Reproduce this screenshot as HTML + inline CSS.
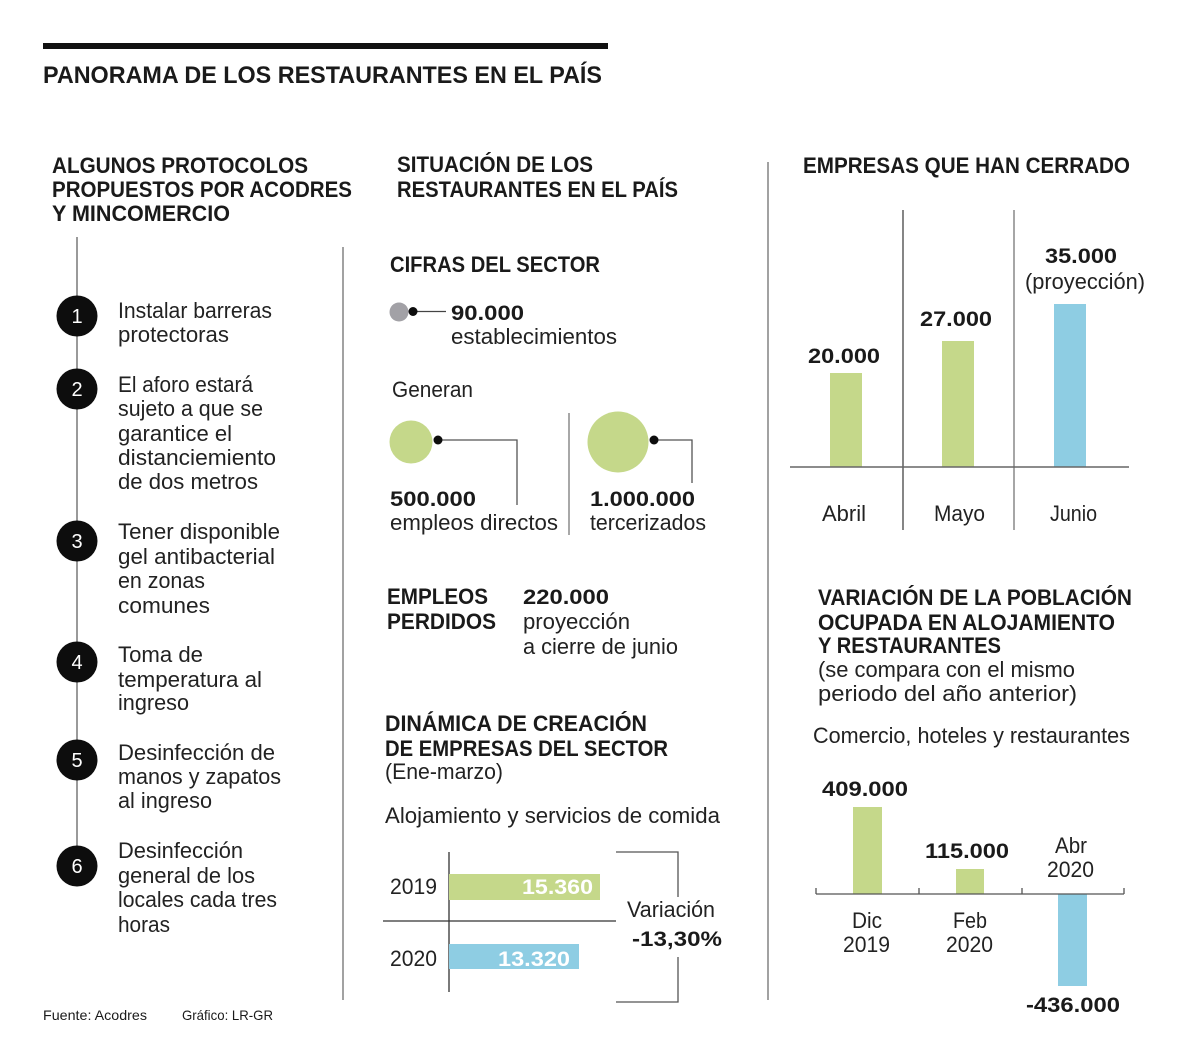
<!DOCTYPE html>
<html>
<head>
<meta charset="utf-8">
<style>
html,body{margin:0;padding:0;background:#fff;}
svg{display:block;}
text{font-family:"Liberation Sans",sans-serif;fill:#1a1a1a;}
.h{font-weight:bold;font-size:22px;}
.b{font-size:22px;fill:#222;}
.n{font-weight:bold;font-size:21px;}
</style>
</head>
<body>
<svg width="1200" height="1061" viewBox="0 0 1200 1061" xmlns="http://www.w3.org/2000/svg">
<rect width="1200" height="1061" fill="#fff"/>
<!-- top bar -->
<rect x="43" y="43" width="565" height="6" fill="#111"/>
<text x="43" y="83" font-size="24" font-weight="bold" textLength="559" lengthAdjust="spacingAndGlyphs">PANORAMA DE LOS RESTAURANTES EN EL PAÍS</text>

<!-- column headings -->
<text class="h" x="52" y="173" textLength="256" lengthAdjust="spacingAndGlyphs">ALGUNOS PROTOCOLOS</text>
<text class="h" x="52" y="197" textLength="300" lengthAdjust="spacingAndGlyphs">PROPUESTOS POR ACODRES</text>
<text class="h" x="52" y="221" textLength="178" lengthAdjust="spacingAndGlyphs">Y MINCOMERCIO</text>

<text class="h" x="397" y="172" textLength="196" lengthAdjust="spacingAndGlyphs">SITUACIÓN DE LOS</text>
<text class="h" x="397" y="197" textLength="281" lengthAdjust="spacingAndGlyphs">RESTAURANTES EN EL PAÍS</text>

<text class="h" x="803" y="173" textLength="327" lengthAdjust="spacingAndGlyphs">EMPRESAS QUE HAN CERRADO</text>

<!-- dividers -->
<line x1="343" y1="247" x2="343" y2="1000" stroke="#8a8a8a" stroke-width="1.6"/>
<line x1="768" y1="162" x2="768" y2="1000" stroke="#8a8a8a" stroke-width="1.6"/>

<!-- timeline -->
<line x1="77" y1="237" x2="77" y2="866" stroke="#9a9a9a" stroke-width="2"/>
<g>
<circle cx="77" cy="316" r="20.5" fill="#0d0d0d"/>
<circle cx="77" cy="389" r="20.5" fill="#0d0d0d"/>
<circle cx="77" cy="541" r="20.5" fill="#0d0d0d"/>
<circle cx="77" cy="662" r="20.5" fill="#0d0d0d"/>
<circle cx="77" cy="760" r="20.5" fill="#0d0d0d"/>
<circle cx="77" cy="866" r="20.5" fill="#0d0d0d"/>
</g>
<g font-size="20" text-anchor="middle">
<text x="77" y="323" style="fill:#fff">1</text>
<text x="77" y="396" style="fill:#fff">2</text>
<text x="77" y="548" style="fill:#fff">3</text>
<text x="77" y="669" style="fill:#fff">4</text>
<text x="77" y="767" style="fill:#fff">5</text>
<text x="77" y="873" style="fill:#fff">6</text>
</g>

<!-- items -->
<text class="b" x="118" y="318" textLength="154" lengthAdjust="spacingAndGlyphs">Instalar barreras</text>
<text class="b" x="118" y="342" textLength="111" lengthAdjust="spacingAndGlyphs">protectoras</text>

<text class="b" x="118" y="392" textLength="135" lengthAdjust="spacingAndGlyphs">El aforo estará</text>
<text class="b" x="118" y="416" textLength="145" lengthAdjust="spacingAndGlyphs">sujeto a que se</text>
<text class="b" x="118" y="441" textLength="114" lengthAdjust="spacingAndGlyphs">garantice el</text>
<text class="b" x="118" y="465" textLength="158" lengthAdjust="spacingAndGlyphs">distanciemiento</text>
<text class="b" x="118" y="489" textLength="140" lengthAdjust="spacingAndGlyphs">de dos metros</text>

<text class="b" x="118" y="539" textLength="162" lengthAdjust="spacingAndGlyphs">Tener disponible</text>
<text class="b" x="118" y="564" textLength="157" lengthAdjust="spacingAndGlyphs">gel antibacterial</text>
<text class="b" x="118" y="588" textLength="87" lengthAdjust="spacingAndGlyphs">en zonas</text>
<text class="b" x="118" y="613" textLength="92" lengthAdjust="spacingAndGlyphs">comunes</text>

<text class="b" x="118" y="662" textLength="85" lengthAdjust="spacingAndGlyphs">Toma de</text>
<text class="b" x="118" y="687" textLength="144" lengthAdjust="spacingAndGlyphs">temperatura al</text>
<text class="b" x="118" y="710" textLength="71" lengthAdjust="spacingAndGlyphs">ingreso</text>

<text class="b" x="118" y="760" textLength="157" lengthAdjust="spacingAndGlyphs">Desinfección de</text>
<text class="b" x="118" y="784" textLength="163" lengthAdjust="spacingAndGlyphs">manos y zapatos</text>
<text class="b" x="118" y="808" textLength="94" lengthAdjust="spacingAndGlyphs">al ingreso</text>

<text class="b" x="118" y="858" textLength="125" lengthAdjust="spacingAndGlyphs">Desinfección</text>
<text class="b" x="118" y="883" textLength="137" lengthAdjust="spacingAndGlyphs">general de los</text>
<text class="b" x="118" y="907" textLength="159" lengthAdjust="spacingAndGlyphs">locales cada tres</text>
<text class="b" x="118" y="932" textLength="52" lengthAdjust="spacingAndGlyphs">horas</text>

<!-- footer -->
<text x="43" y="1020" font-size="14" textLength="104" lengthAdjust="spacingAndGlyphs">Fuente: Acodres</text>
<text x="182" y="1020" font-size="14" textLength="91" lengthAdjust="spacingAndGlyphs">Gráfico: LR-GR</text>

<!-- CIFRAS DEL SECTOR -->
<text class="h" x="390" y="272" textLength="210" lengthAdjust="spacingAndGlyphs">CIFRAS DEL SECTOR</text>
<circle cx="399" cy="312" r="9.5" fill="#a2a1a6"/>
<line x1="413" y1="311.5" x2="446" y2="311.5" stroke="#444" stroke-width="1.3"/>
<circle cx="413" cy="311.5" r="4.5" fill="#0d0d0d"/>
<text class="n" x="451" y="320" textLength="73" lengthAdjust="spacingAndGlyphs">90.000</text>
<text class="b" x="451" y="344" textLength="166" lengthAdjust="spacingAndGlyphs">establecimientos</text>
<text class="b" x="392" y="397" textLength="81" lengthAdjust="spacingAndGlyphs">Generan</text>

<circle cx="411" cy="442" r="21.5" fill="#c5d88a"/>
<polyline points="438,440 517,440 517,505" fill="none" stroke="#555" stroke-width="1.3"/>
<circle cx="438" cy="440" r="4.5" fill="#0d0d0d"/>
<line x1="569" y1="413" x2="569" y2="535" stroke="#8a8a8a" stroke-width="1.5"/>
<circle cx="618" cy="442" r="30.5" fill="#c5d88a"/>
<polyline points="654,440 692,440 692,483" fill="none" stroke="#555" stroke-width="1.3"/>
<circle cx="654" cy="440" r="4.5" fill="#0d0d0d"/>

<text class="n" x="390" y="506" textLength="86" lengthAdjust="spacingAndGlyphs">500.000</text>
<text class="b" x="390" y="530" textLength="168" lengthAdjust="spacingAndGlyphs">empleos directos</text>
<text class="n" x="590" y="506" textLength="105" lengthAdjust="spacingAndGlyphs">1.000.000</text>
<text class="b" x="590" y="530" textLength="116" lengthAdjust="spacingAndGlyphs">tercerizados</text>

<!-- EMPLEOS PERDIDOS -->
<text class="h" x="387" y="604" textLength="101" lengthAdjust="spacingAndGlyphs">EMPLEOS</text>
<text class="h" x="387" y="629" textLength="109" lengthAdjust="spacingAndGlyphs">PERDIDOS</text>
<text class="n" x="523" y="604" textLength="86" lengthAdjust="spacingAndGlyphs">220.000</text>
<text class="b" x="523" y="629" textLength="107" lengthAdjust="spacingAndGlyphs">proyección</text>
<text class="b" x="523" y="654" textLength="155" lengthAdjust="spacingAndGlyphs">a cierre de junio</text>

<!-- DINAMICA -->
<text class="h" x="385" y="731" textLength="262" lengthAdjust="spacingAndGlyphs">DINÁMICA DE CREACIÓN</text>
<text class="h" x="385" y="756" textLength="283" lengthAdjust="spacingAndGlyphs">DE EMPRESAS DEL SECTOR</text>
<text class="b" x="385" y="779" textLength="118" lengthAdjust="spacingAndGlyphs">(Ene-marzo)</text>
<text class="b" x="385" y="823" textLength="335" lengthAdjust="spacingAndGlyphs">Alojamiento y servicios de comida</text>

<line x1="449" y1="852" x2="449" y2="992" stroke="#333" stroke-width="1.3"/>
<line x1="383" y1="921" x2="616" y2="921" stroke="#333" stroke-width="1.3"/>
<rect x="449" y="874" width="151" height="26" fill="#c5d88a"/>
<rect x="449" y="944" width="130" height="25" fill="#8ecde3"/>
<text class="n" x="593" y="894" text-anchor="end" style="fill:#fff" textLength="71" lengthAdjust="spacingAndGlyphs">15.360</text>
<text class="n" x="570" y="966" text-anchor="end" style="fill:#fff" textLength="72" lengthAdjust="spacingAndGlyphs">13.320</text>
<text class="b" x="390" y="894" textLength="47" lengthAdjust="spacingAndGlyphs">2019</text>
<text class="b" x="390" y="966" textLength="47" lengthAdjust="spacingAndGlyphs">2020</text>
<polyline points="616,852 678,852 678,897" fill="none" stroke="#555" stroke-width="1.3"/>
<polyline points="678,957 678,1002 616,1002" fill="none" stroke="#555" stroke-width="1.3"/>
<text class="b" x="627" y="917" textLength="88" lengthAdjust="spacingAndGlyphs">Variación</text>
<text class="n" x="632" y="946" textLength="90" lengthAdjust="spacingAndGlyphs">-13,30%</text>

<!-- EMPRESAS QUE HAN CERRADO chart -->
<line x1="903" y1="210" x2="903" y2="530" stroke="#444" stroke-width="1.3"/>
<line x1="1014" y1="210" x2="1014" y2="530" stroke="#777" stroke-width="1.3"/>
<rect x="830" y="373" width="32" height="94" fill="#c5d88a"/>
<rect x="942" y="341" width="32" height="126" fill="#c5d88a"/>
<rect x="1054" y="304" width="32" height="163" fill="#8ecde3"/>
<line x1="790" y1="467" x2="1129" y2="467" stroke="#666" stroke-width="1.5"/>
<text class="n" x="808" y="363" textLength="72" lengthAdjust="spacingAndGlyphs">20.000</text>
<text class="n" x="920" y="326" textLength="72" lengthAdjust="spacingAndGlyphs">27.000</text>
<text class="n" x="1045" y="263" textLength="72" lengthAdjust="spacingAndGlyphs">35.000</text>
<text class="b" x="1025" y="289" textLength="120" lengthAdjust="spacingAndGlyphs">(proyección)</text>
<text class="b" x="822" y="521" textLength="44" lengthAdjust="spacingAndGlyphs">Abril</text>
<text class="b" x="934" y="521" textLength="51" lengthAdjust="spacingAndGlyphs">Mayo</text>
<text class="b" x="1050" y="521" textLength="47" lengthAdjust="spacingAndGlyphs">Junio</text>

<!-- VARIACION -->
<text class="h" x="818" y="605" textLength="314" lengthAdjust="spacingAndGlyphs">VARIACIÓN DE LA POBLACIÓN</text>
<text class="h" x="818" y="630" textLength="297" lengthAdjust="spacingAndGlyphs">OCUPADA EN ALOJAMIENTO</text>
<text class="h" x="818" y="653" textLength="183" lengthAdjust="spacingAndGlyphs">Y RESTAURANTES</text>
<text class="b" x="818" y="677" textLength="257" lengthAdjust="spacingAndGlyphs">(se compara con el mismo</text>
<text class="b" x="818" y="701" textLength="259" lengthAdjust="spacingAndGlyphs">periodo del año anterior)</text>
<text class="b" x="813" y="743" textLength="317" lengthAdjust="spacingAndGlyphs">Comercio, hoteles y restaurantes</text>

<rect x="853" y="807" width="29" height="87" fill="#c5d88a"/>
<rect x="956" y="869" width="28" height="25" fill="#c5d88a"/>
<rect x="1058" y="894" width="29" height="92" fill="#8ecde3"/>
<g stroke="#555" stroke-width="1.3">
<line x1="816" y1="894" x2="1124" y2="894"/>
<line x1="816" y1="888" x2="816" y2="894"/>
<line x1="919" y1="888" x2="919" y2="894"/>
<line x1="1022" y1="888" x2="1022" y2="894"/>
<line x1="1124" y1="888" x2="1124" y2="894"/>
</g>
<text class="n" x="822" y="796" textLength="86" lengthAdjust="spacingAndGlyphs">409.000</text>
<text class="n" x="925" y="858" textLength="84" lengthAdjust="spacingAndGlyphs">115.000</text>
<text class="b" x="1055" y="853" textLength="32" lengthAdjust="spacingAndGlyphs">Abr</text>
<text class="b" x="1047" y="877" textLength="47" lengthAdjust="spacingAndGlyphs">2020</text>
<text class="b" x="852" y="928" textLength="30" lengthAdjust="spacingAndGlyphs">Dic</text>
<text class="b" x="843" y="952" textLength="47" lengthAdjust="spacingAndGlyphs">2019</text>
<text class="b" x="953" y="928" textLength="34" lengthAdjust="spacingAndGlyphs">Feb</text>
<text class="b" x="946" y="952" textLength="47" lengthAdjust="spacingAndGlyphs">2020</text>
<text class="n" x="1026" y="1012" textLength="94" lengthAdjust="spacingAndGlyphs">-436.000</text>
</svg>
</body>
</html>
